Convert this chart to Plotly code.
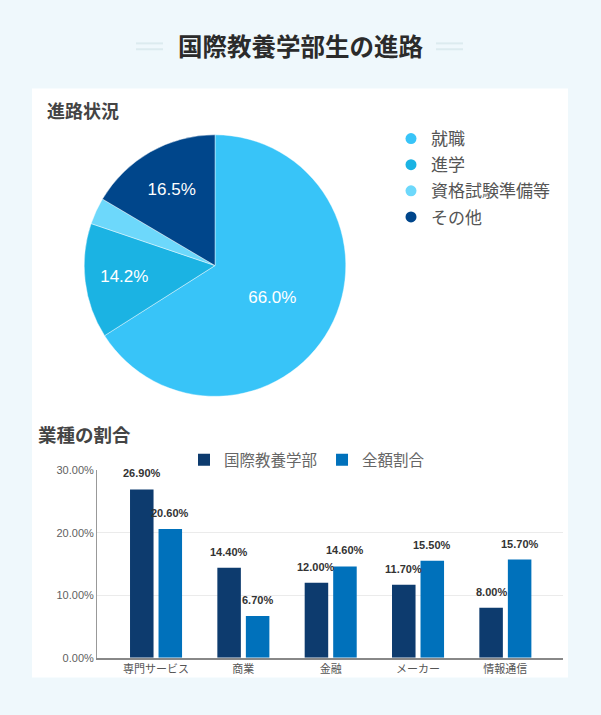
import plotly.graph_objects as go

# ---- data ----
title_text = "国際教養学部生の進路"
pie_title = "進路状況"
bar_title = "業種の割合"

pie_labels = ["就職", "進学", "資格試験準備等", "その他"]
pie_values = [66.0, 14.2, 3.3, 16.5]
pie_colors = ["#38C4F8", "#1BB3E3", "#6DD8FB", "#00468B"]

categories = ["専門サービス", "商業", "金融", "メーカー", "情報通信"]
series_names = ["国際教養学部", "全額割合"]
faculty_vals = [26.9, 14.4, 12.0, 11.7, 8.0]
overall_vals = [20.6, 6.7, 14.6, 15.5, 15.7]
bar_colors = ["#0D3B6E", "#0071BB"]
y_ticks = [0, 10, 20, 30]

W, H = 601, 715
def px(x): return x / W
def py(y): return 1 - y / H

JP = "Arial, 'Liberation Sans', 'Noto Sans CJK JP', sans-serif"
CJK = "'Noto Sans CJK JP', sans-serif"

fig = go.Figure()

pie_text = [f"{v:.1f}%" if v >= 5 else "" for v in pie_values]
fig.add_trace(go.Pie(
    labels=pie_labels, values=pie_values, sort=False, direction="clockwise", rotation=0,
    marker=dict(colors=pie_colors, line=dict(color="rgba(255,255,255,0.6)", width=0.7)),
    text=pie_text, textinfo="text", textposition="inside", insidetextorientation="horizontal",
    textfont=dict(color="white", size=17, family=JP),
    domain=dict(x=[px(82), px(348)], y=[py(397), py(131)]),
    showlegend=False, hoverinfo="label+percent",
))

# legend entries for pie (circle markers)
for i, (lab, col) in enumerate(zip(pie_labels, pie_colors)):
    fig.add_trace(go.Scatter(x=[None], y=[None], mode="markers", name=lab,
                             legendgroup=f"g{i}",
                             marker=dict(symbol="circle", size=11, color=col),
                             xaxis="x2", yaxis="y2", legend="legend"))

offs = [-14.25, 14.25]
for name, vals, col in zip(series_names, [faculty_vals, overall_vals], bar_colors):
    fig.add_trace(go.Bar(x=categories, y=vals, name=name, marker=dict(color=col, line=dict(width=0)),
                         legend="legend2"))

annotations = []
for vals, off in zip([faculty_vals, overall_vals], offs):
    for c, v in zip(categories, vals):
        annotations.append(dict(x=c, y=v, xref="x", yref="y", text=f"<b>{v:.2f}%</b>",
                                showarrow=False, xshift=off, yshift=16, yanchor="middle",
                                font=dict(size=11, color="#333333", family=JP)))

annotations += [
    dict(x=px(300), y=py(40), xref="paper", yref="paper", text=f"<b>{title_text}</b>",
         showarrow=False, xanchor="center", yanchor="middle",
         font=dict(size=24.5, color="#2b2b2b", family=CJK)),
    dict(x=px(45), y=py(106), xref="paper", yref="paper", text=f"<b>{pie_title}</b>",
         showarrow=False, xanchor="left", yanchor="middle",
         font=dict(size=18, color="#444444", family=CJK)),
    dict(x=px(36), y=py(435), xref="paper", yref="paper", text=f"<b>{bar_title}</b>",
         showarrow=False, xanchor="left", yanchor="middle",
         font=dict(size=18.5, color="#444444", family=CJK)),
]

shapes = [
    dict(type="rect", xref="paper", yref="paper", x0=px(32), x1=px(568), y0=py(683), y1=py(84),
         fillcolor="white", line=dict(width=0), layer="below"),
]
for (a, b) in [(136, 163), (436, 463)]:
    for yy in (38, 44):
        shapes.append(dict(type="line", xref="paper", yref="paper", x0=px(a), x1=px(b),
                           y0=py(yy), y1=py(yy), line=dict(color="#DCEBEF", width=2)))

fig.update_layout(
    width=W, height=H, margin=dict(l=0, r=0, t=0, b=0),
    paper_bgcolor="#EFF8FC", plot_bgcolor="rgba(0,0,0,0)",
    barmode="group", bargap=0.347, bargroupgap=0.175,
    annotations=annotations, shapes=shapes,
    xaxis=dict(domain=[px(97), px(563)], range=[-0.676, 4.66], type="category",
               showline=True, linecolor="#888888", linewidth=1.5, ticks="",
               tickfont=dict(size=11, color="#555555", family=JP), showgrid=False,
               anchor="y", fixedrange=True),
    yaxis=dict(domain=[py(663), py(472)], range=[0, 30], tickmode="array", tickvals=y_ticks,
               ticktext=[f"{t:.2f}%" for t in y_ticks],
               showline=True, linecolor="#999999", linewidth=1,
               gridcolor="#EBEBEB", tickfont=dict(size=11, color="#5f5f5f", family=JP),
               zeroline=False, anchor="x", ticks="", fixedrange=True),
    xaxis2=dict(domain=[0.9, 0.95], visible=False, anchor="y2"),
    yaxis2=dict(domain=[0.9, 0.95], visible=False, anchor="x2"),
    legend=dict(x=px(391), y=py(117), xanchor="left", yanchor="top", bgcolor="rgba(0,0,0,0)",
                tracegroupgap=1,
                font=dict(size=17, color="#555555", family=CJK),
                itemclick=False, itemdoubleclick=False),
    legend2=dict(orientation="h", x=px(307), y=py(462), xanchor="center", yanchor="middle",
                 bgcolor="rgba(0,0,0,0)",
                 font=dict(size=15.5, color="#666666", family=CJK),
                 itemclick=False, itemdoubleclick=False),
    showlegend=True,
)

fig.write_html("out.html")
